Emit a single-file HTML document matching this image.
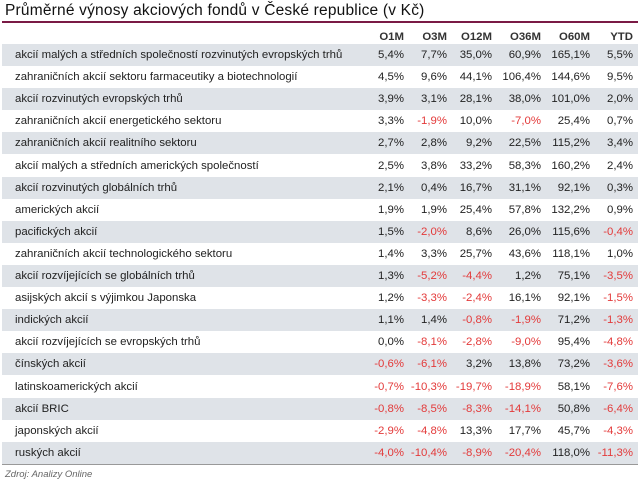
<!DOCTYPE html>
<html><head><meta charset="utf-8">
<style>
body{margin:0;width:640px;height:480px;background:#fff;font-family:"Liberation Sans",sans-serif;color:#222;position:relative;overflow:hidden}
.title{position:absolute;left:5px;top:2px;font-size:15.5px;color:#111;letter-spacing:0.2px}
.uline{position:absolute;left:2px;top:21px;width:636px;height:2px;background:#7a1a45}
.row{position:absolute;left:2px;width:636px;height:22px;font-size:11.4px;line-height:22px}
.row.g{background:#dfe3e8}
.row span{position:absolute;top:0;white-space:nowrap}
.lab{left:13px}
.neg{color:#e33a3a}
.hdr{font-weight:bold;color:#333}
.base{position:absolute;left:2px;top:464px;width:636px;height:1px;background:#999}
.src{position:absolute;left:5px;top:469px;font-size:9.5px;font-style:italic;color:#666}
</style></head><body>
<div class="title">Průměrné výnosy akciových fondů v České republice (v Kč)</div>
<div class="uline"></div>
<div id="tbl"></div>
<div class="base"></div>
<div class="src">Zdroj: Analizy Online</div>
<script>
const headers=["O1M","O3M","O12M","O36M","O60M","YTD"];
const labels=["akcií malých a středních společností rozvinutých evropských trhů","zahraničních akcií sektoru farmaceutiky a biotechnologií","akcií rozvinutých evropských trhů","zahraničních akcií energetického sektoru","zahraničních akcií realitního sektoru","akcií malých a středních amerických společností","akcií rozvinutých globálních trhů","amerických akcií","pacifických akcií","zahraničních akcií technologického sektoru","akcií rozvíjejících se globálních trhů","asijských akcií s výjimkou Japonska","indických akcií","akcií rozvíjejících se evropských trhů","čínských akcií","latinskoamerických akcií","akcií BRIC","japonských akcií","ruských akcií"];
const values=[
[5.4,7.7,35.0,60.9,165.1,5.5],
[4.5,9.6,44.1,106.4,144.6,9.5],
[3.9,3.1,28.1,38.0,101.0,2.0],
[3.3,-1.9,10.0,-7.0,25.4,0.7],
[2.7,2.8,9.2,22.5,115.2,3.4],
[2.5,3.8,33.2,58.3,160.2,2.4],
[2.1,0.4,16.7,31.1,92.1,0.3],
[1.9,1.9,25.4,57.8,132.2,0.9],
[1.5,-2.0,8.6,26.0,115.6,-0.4],
[1.4,3.3,25.7,43.6,118.1,1.0],
[1.3,-5.2,-4.4,1.2,75.1,-3.5],
[1.2,-3.3,-2.4,16.1,92.1,-1.5],
[1.1,1.4,-0.8,-1.9,71.2,-1.3],
[0.0,-8.1,-2.8,-9.0,95.4,-4.8],
[-0.6,-6.1,3.2,13.8,73.2,-3.6],
[-0.7,-10.3,-19.7,-18.9,58.1,-7.6],
[-0.8,-8.5,-8.3,-14.1,50.8,-6.4],
[-2.9,-4.8,13.3,17.7,45.7,-4.3],
[-4.0,-10.4,-8.9,-20.4,118.0,-11.3]];
const colRight=[404,447,492,541,590,633];
const tbl=document.getElementById('tbl');
const rowTop=i=>44+i*22.1;
function cell(row,txt,right,cls){const s=document.createElement('span');s.textContent=txt;s.style.right=(636-right+2)+'px';if(cls)s.className=cls;row.appendChild(s);return s;}
const h=document.createElement('div');h.className='row hdr';h.style.top='26px';


headers.forEach((t,j)=>{const s=cell(h,t,colRight[j]);

});
tbl.appendChild(h);
labels.forEach((lab,i)=>{
const r=document.createElement('div');r.className='row'+(i%2==0?' g':'');r.style.top=rowTop(i)+'px';


const l=document.createElement('span');l.className='lab';l.textContent=lab;


r.appendChild(l);
values[i].forEach((v,j)=>{const s=cell(r,v.toFixed(1).replace('.',',')+'%',colRight[j],v<0?'neg':'');

});
tbl.appendChild(r);});
</script>
</body></html>
